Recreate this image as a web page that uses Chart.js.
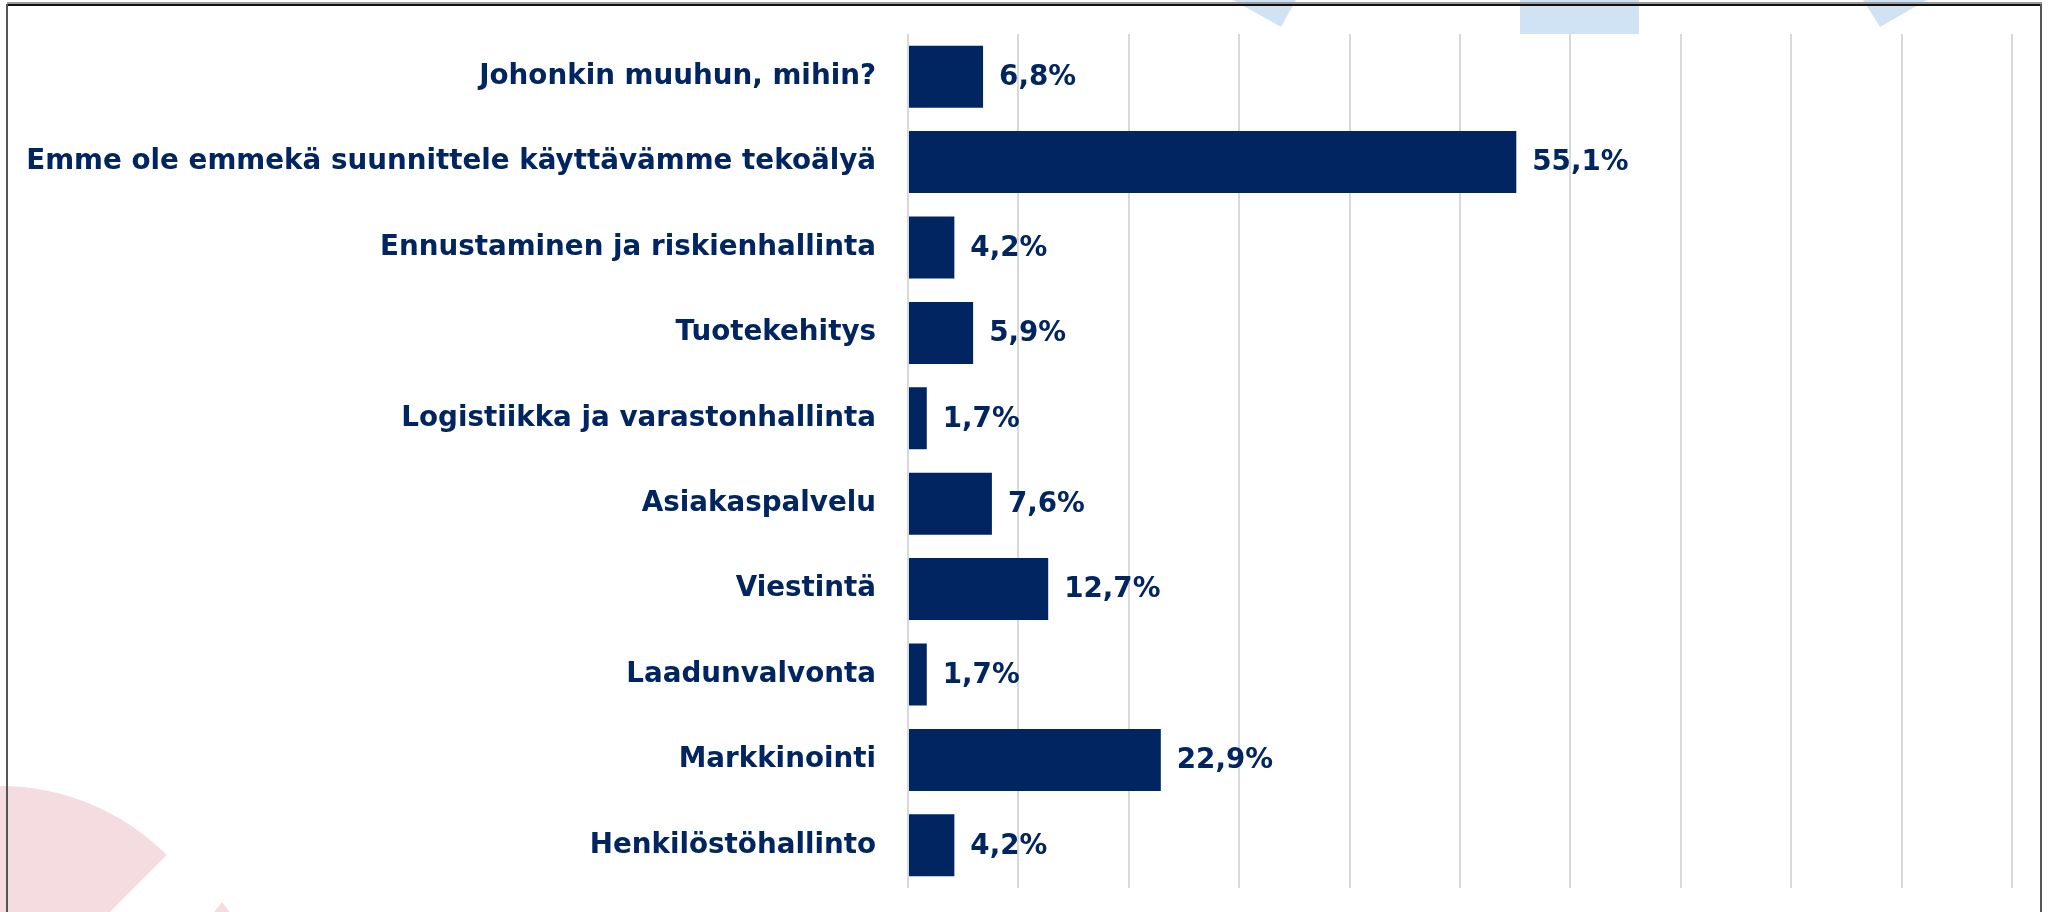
<!DOCTYPE html>
<html>
<head>
<meta charset="utf-8">
<script src="https://cdn.jsdelivr.net/npm/chart.js@4.4.1/dist/chart.umd.min.js"></script>
<style>
    html, body { margin: 0; padding: 0; background: #ffffff; }
    #wrap { position: relative; width: 2050px; height: 912px; }
</style>
</head>
<body>
<div id="wrap"><canvas id="aiChart"></canvas></div>
<script>
// Categories, top to bottom as in the chart
const categories = [
    'Johonkin muuhun, mihin?',
    'Emme ole emmekä suunnittele käyttävämme tekoälyä',
    'Ennustaminen ja riskienhallinta',
    'Tuotekehitys',
    'Logistiikka ja varastonhallinta',
    'Asiakaspalvelu',
    'Viestintä',
    'Laadunvalvonta',
    'Markkinointi',
    'Henkilöstöhallinto'
];
// Share of respondents, %
const shares = [6.8, 55.1, 4.2, 5.9, 1.7, 7.6, 12.7, 1.7, 22.9, 4.2];

const navy = '#002560';
const labelFont = 'bold 27.75px "DejaVu Sans", sans-serif';

// slide decoration behind the chart + frame
const slideBackground = {
    id: 'slideBackground',
    beforeDraw(chart) {
        const ctx = chart.ctx;
        ctx.save();
        ctx.fillStyle = '#cfe3f4';
        ctx.beginPath();
        ctx.moveTo(1233, 0); ctx.lineTo(1296, 0); ctx.lineTo(1281, 27); ctx.closePath();
        ctx.fill();
        ctx.fillRect(1520, 0, 119, 34);
        ctx.beginPath();
        ctx.moveTo(1863, 0); ctx.lineTo(1927, 0); ctx.lineTo(1880, 27); ctx.closePath();
        ctx.fill();

        ctx.fillStyle = '#f5dce1';
        ctx.beginPath();
        ctx.moveTo(0, 1022);
        ctx.arc(0, 1022, 236, -Math.PI, -Math.PI / 4);
        ctx.closePath();
        ctx.fill();
        ctx.beginPath();
        ctx.moveTo(222, 902); ctx.lineTo(236, 920); ctx.lineTo(208, 920); ctx.closePath();
        ctx.fill();

        // frame
        ctx.fillStyle = '#9a9a9a';
        ctx.fillRect(7, 2, 2035, 2);
        ctx.fillStyle = '#111111';
        ctx.fillRect(7, 4, 2035, 2);
        ctx.fillStyle = '#555555';
        ctx.fillRect(6, 4, 2, 908);
        ctx.fillRect(2040, 4, 2, 908);
        ctx.restore();
    }
};

// value labels at the end of each bar
const valueLabels = {
    id: 'valueLabels',
    afterDatasetsDraw(chart) {
        const ctx = chart.ctx;
        const meta = chart.getDatasetMeta(0);
        ctx.save();
        ctx.font = labelFont;
        ctx.fillStyle = navy;
        ctx.textAlign = 'left';
        ctx.textBaseline = 'middle';
        meta.data.forEach((bar, i) => {
            const txt = shares[i].toFixed(1).replace('.', ',') + '%';
            ctx.fillText(txt, bar.x + 16, bar.y + 1);
        });
        ctx.restore();
    }
};

new Chart(document.getElementById('aiChart'), {
    type: 'bar',
    data: {
        labels: categories,
        datasets: [{
            data: shares,
            backgroundColor: navy,
            borderWidth: 0,
            categoryPercentage: 1,
            barPercentage: 0.726
        }]
    },
    options: {
        indexAxis: 'y',
        responsive: true,
        maintainAspectRatio: false,
        animation: false,
        layout: { padding: { top: 34, bottom: 24, right: 38, left: 0 } },
        plugins: {
            legend: { display: false },
            tooltip: { enabled: false }
        },
        scales: {
            x: {
                min: 0,
                max: 100,
                ticks: { display: false, stepSize: 10 },
                grid: { color: '#d9d9d9', lineWidth: 2, drawTicks: false },
                border: { display: false },
                afterFit(scale) { scale.height = 0; scale.paddingLeft = 0; scale.paddingRight = 0; }
            },
            y: {
                grid: { display: false, drawTicks: false },
                border: { display: false },
                ticks: {
                    color: navy,
                    padding: 32,
                    font: { family: '"DejaVu Sans", sans-serif', size: 27.75, weight: 'bold' }
                },
                afterFit(scale) {
                    scale.width = 908;
                    scale.paddingTop = 0;
                    scale.paddingBottom = 0;
                }
            }
        }
    },
    plugins: [slideBackground, valueLabels]
});
</script>
</body>
</html>
